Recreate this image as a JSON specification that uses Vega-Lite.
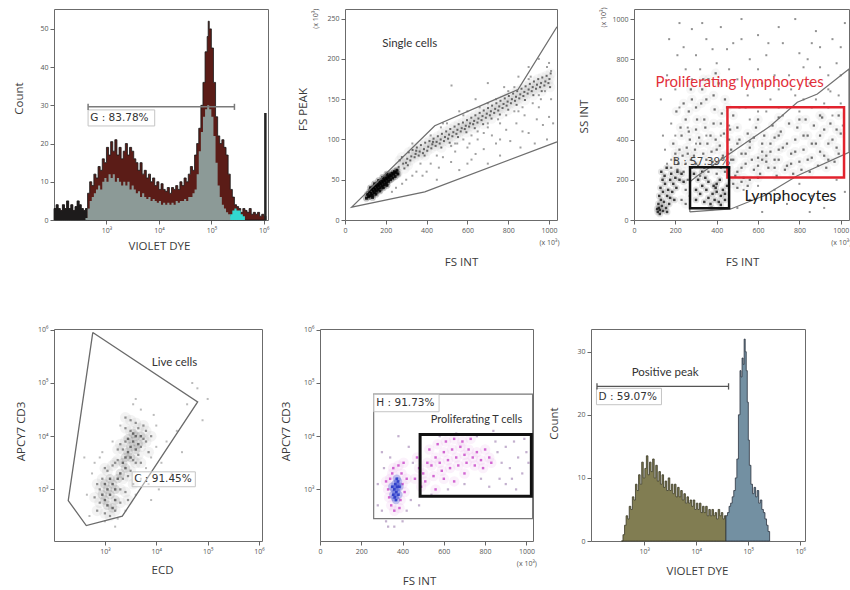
{
"$schema": "https://vega.github.io/schema/vega-lite/v6.json",
"background": "white",
"padding": {"left": 12, "top": 6, "right": 0, "bottom": 0},
"config": {
  "view": {"stroke": "#6b6b6b", "strokeWidth": 1},
  "axis": {"domain": false, "grid": false, "tickColor": "#666", "tickSize": 4, "labelFont": "Open Sans", "labelFontSize": 7, "labelColor": "#555", "labelPadding": 2, "labelOverlap": false, "labelFlush": false, "labelBound": false, "titleFont": "Open Sans", "titleFontSize": 11.5, "titleFontWeight": "normal", "titleColor": "#3a3a3a", "titleBaseline": "middle", "titleAlign": "center", "minExtent": 0, "maxExtent": 0},
  "text": {"font": "Lato"}
},
"datasets": {
  "h1": [{"x":2.00,"t":3,"k":3},{"x":2.04,"t":4,"k":4},{"x":2.08,"t":3,"k":3},{"x":2.12,"t":2.5,"k":2.5},{"x":2.16,"t":4,"k":4},{"x":2.2,"t":3,"k":3},{"x":2.24,"t":5,"k":5},{"x":2.28,"t":3,"k":3},{"x":2.32,"t":4,"k":4},{"x":2.36,"t":2.5,"k":2.5},{"x":2.4,"t":3.5,"k":3.5},{"x":2.44,"t":5,"k":5},{"x":2.48,"t":4,"k":4},{"x":2.52,"t":3,"k":3},{"x":2.56,"t":2.5,"k":2.5},{"x":2.6,"t":3,"g":0.5,"k":3},{"x":2.64,"t":7,"g":3,"k":0},{"x":2.68,"t":10,"g":5},{"x":2.72,"t":9,"g":6},{"x":2.76,"t":12,"g":7},{"x":2.8,"t":11,"g":8},{"x":2.84,"t":14,"g":9},{"x":2.88,"t":13,"g":8},{"x":2.92,"t":16,"g":10},{"x":2.96,"t":15,"g":11},{"x":3.0,"t":19,"g":10},{"x":3.04,"t":17,"g":12},{"x":3.08,"t":20.5,"g":11},{"x":3.12,"t":18,"g":12},{"x":3.16,"t":21,"g":10},{"x":3.2,"t":17,"g":11},{"x":3.24,"t":19,"g":10},{"x":3.28,"t":16,"g":9},{"x":3.32,"t":18,"g":10},{"x":3.36,"t":20,"g":9},{"x":3.4,"t":17,"g":10},{"x":3.44,"t":19,"g":8},{"x":3.48,"t":18,"g":9},{"x":3.52,"t":16,"g":8},{"x":3.56,"t":15,"g":7},{"x":3.6,"t":13,"g":7.5},{"x":3.64,"t":15,"g":6},{"x":3.68,"t":12,"g":7},{"x":3.72,"t":13,"g":6},{"x":3.76,"t":11,"g":5.5},{"x":3.8,"t":12,"g":6},{"x":3.84,"t":10,"g":5},{"x":3.88,"t":11,"g":5.5},{"x":3.92,"t":9,"g":5},{"x":3.96,"t":10,"g":4.5},{"x":4.0,"t":8,"g":5},{"x":4.04,"t":9.5,"g":4},{"x":4.08,"t":8,"g":4.5},{"x":4.12,"t":7.5,"g":4},{"x":4.16,"t":8.5,"g":4.5},{"x":4.2,"t":7,"g":4},{"x":4.24,"t":8.5,"g":4.5},{"x":4.28,"t":8,"g":4},{"x":4.32,"t":9,"g":5},{"x":4.36,"t":8,"g":4.5},{"x":4.4,"t":10,"g":5},{"x":4.44,"t":9,"g":5},{"x":4.48,"t":11,"g":5.5},{"x":4.52,"t":10,"g":5},{"x":4.56,"t":12,"g":6},{"x":4.6,"t":14,"g":6},{"x":4.64,"t":13,"g":7},{"x":4.68,"t":17,"g":8},{"x":4.72,"t":20,"g":12},{"x":4.76,"t":24,"g":18},{"x":4.8,"t":30,"g":23},{"x":4.84,"t":36,"g":27},{"x":4.88,"t":44,"g":29},{"x":4.92,"t":48,"g":30},{"x":4.94,"t":52,"g":30},{"x":4.96,"t":50,"g":29},{"x":5.0,"t":45,"g":27},{"x":5.04,"t":36,"g":22},{"x":5.08,"t":27,"g":15},{"x":5.12,"t":22,"g":9},{"x":5.16,"t":20,"g":6},{"x":5.2,"t":21,"g":4},{"x":5.24,"t":19,"g":3},{"x":5.28,"t":17,"g":2},{"x":5.32,"t":12,"g":1.5},{"x":5.36,"t":8,"g":1,"cy":1.5},{"x":5.4,"t":6,"g":0,"cy":2.5},{"x":5.44,"t":4,"cy":3},{"x":5.48,"t":3.5,"cy":2.5},{"x":5.52,"t":3,"cy":2.5},{"x":5.56,"t":2,"cy":1.5},{"x":5.6,"t":3,"cy":1},{"x":5.64,"t":2.5,"cy":0},{"x":5.68,"t":2},{"x":5.72,"t":3},{"x":5.76,"t":1.5},{"x":5.8,"t":2},{"x":5.84,"t":1.5},{"x":5.88,"t":2},{"x":5.92,"t":1},{"x":5.96,"t":1.5},{"x":6.0,"t":1},{"x":6.04,"t":0}],
  "h1bar": [{"x":6.03,"c":28}],
  "gb1": [{"x":2.65,"x2":5.44,"y":29.6}],
  "gc1": [{"x":2.65,"y":28.8,"y2":30.4},{"x":5.44,"y":28.8,"y2":30.4}],
  "b1": [{"x":2.65,"x2":3.92,"y":24.6,"y2":28.8}],
  "t1": [{"x":2.69,"y":26.7,"t":"G : 83.78%"}],
  "h6": [{"x":2.56,"o":0},{"x":2.59,"o":1},{"x":2.62,"o":2.5},{"x":2.65,"o":4},{"x":2.68,"o":3.5},{"x":2.71,"o":5.5},{"x":2.74,"o":5},{"x":2.77,"o":7},{"x":2.8,"o":6.5},{"x":2.83,"o":9},{"x":2.86,"o":8},{"x":2.89,"o":10.5},{"x":2.92,"o":9},{"x":2.95,"o":12.5},{"x":2.98,"o":10},{"x":3.01,"o":11.5},{"x":3.04,"o":13.5},{"x":3.07,"o":10.5},{"x":3.1,"o":12.5},{"x":3.13,"o":11},{"x":3.16,"o":13},{"x":3.19,"o":10},{"x":3.22,"o":12},{"x":3.25,"o":9.5},{"x":3.28,"o":11},{"x":3.31,"o":9},{"x":3.34,"o":10.5},{"x":3.37,"o":8.5},{"x":3.4,"o":9.5},{"x":3.43,"o":8},{"x":3.46,"o":10},{"x":3.49,"o":8},{"x":3.52,"o":9},{"x":3.55,"o":7.5},{"x":3.58,"o":9},{"x":3.61,"o":7},{"x":3.64,"o":8.5},{"x":3.67,"o":7},{"x":3.7,"o":8},{"x":3.73,"o":6.5},{"x":3.76,"o":7.5},{"x":3.79,"o":6},{"x":3.82,"o":7},{"x":3.85,"o":6},{"x":3.88,"o":6.5},{"x":3.91,"o":5.5},{"x":3.94,"o":6.5},{"x":3.97,"o":5},{"x":4.0,"o":6},{"x":4.03,"o":5},{"x":4.06,"o":6},{"x":4.09,"o":4.5},{"x":4.12,"o":5.5},{"x":4.15,"o":4.5},{"x":4.18,"o":5.5},{"x":4.21,"o":4},{"x":4.24,"o":5},{"x":4.27,"o":4},{"x":4.3,"o":5},{"x":4.33,"o":4},{"x":4.36,"o":4.5},{"x":4.39,"o":3.5},{"x":4.42,"o":5},{"x":4.45,"o":4},{"x":4.48,"o":4.5},{"x":4.51,"o":3.5},{"x":4.54,"o":4},{"x":4.57,"o":4,"b":4},{"x":4.6,"b":4.5},{"x":4.63,"b":5.5},{"x":4.66,"b":6},{"x":4.69,"b":7},{"x":4.72,"b":8},{"x":4.75,"b":10},{"x":4.78,"b":13},{"x":4.81,"b":20},{"x":4.84,"b":27},{"x":4.86,"b":26},{"x":4.88,"b":29},{"x":4.9,"b":28},{"x":4.92,"b":32},{"x":4.94,"b":30},{"x":4.96,"b":27},{"x":4.98,"b":22},{"x":5.0,"b":16},{"x":5.02,"b":12},{"x":5.05,"b":9},{"x":5.08,"b":7.5},{"x":5.11,"b":8.5},{"x":5.14,"b":7},{"x":5.17,"b":8},{"x":5.2,"b":6},{"x":5.23,"b":6.5},{"x":5.26,"b":5},{"x":5.29,"b":4.5},{"x":5.32,"b":3.5},{"x":5.35,"b":2.5},{"x":5.38,"b":1.5},{"x":5.41,"b":0}],
  "gb6": [{"x":2.09,"x2":4.62,"y":24.5}],
  "gc6": [{"x":2.09,"y":24.0,"y2":25.0},{"x":4.62,"y":24.0,"y2":25.0}],
  "b6": [{"x":2.08,"x2":3.33,"y":21.6,"y2":24.2}],
  "t6": [{"x":2.12,"y":22.9,"t":"D : 59.07%"}],
  "t6b": [{"x":3.4,"y":26.6,"t":"Positive peak"}],
  "p2d": [{"x":105,"y":27},{"x":110,"y":32},{"x":115,"y":29},{"x":120,"y":35},{"x":122,"y":30},{"x":128,"y":33},{"x":130,"y":38},{"x":134,"y":31},{"x":138,"y":36},{"x":140,"y":40},{"x":144,"y":34},{"x":148,"y":38},{"x":150,"y":42},{"x":154,"y":36},{"x":158,"y":41},{"x":160,"y":44},{"x":163,"y":38},{"x":167,"y":43},{"x":170,"y":46},{"x":173,"y":40},{"x":177,"y":45},{"x":180,"y":48},{"x":183,"y":42},{"x":187,"y":47},{"x":190,"y":50},{"x":193,"y":44},{"x":197,"y":49},{"x":200,"y":52},{"x":203,"y":46},{"x":207,"y":51},{"x":210,"y":54},{"x":213,"y":48},{"x":217,"y":53},{"x":220,"y":56},{"x":223,"y":50},{"x":227,"y":55},{"x":230,"y":58},{"x":234,"y":52},{"x":238,"y":57},{"x":242,"y":60},{"x":246,"y":54},{"x":250,"y":59},{"x":255,"y":62},{"x":260,"y":57},{"x":135,"y":28},{"x":152,"y":32},{"x":171,"y":36},{"x":188,"y":40},{"x":206,"y":43},{"x":125,"y":40},{"x":145,"y":45},{"x":165,"y":49},{"x":185,"y":53},{"x":205,"y":57}],
  "p2m": [{"x":263,"y":66},{"x":258,"y":58},{"x":268,"y":74},{"x":285,"y":70},{"x":279,"y":78},{"x":291,"y":64},{"x":305,"y":76},{"x":312,"y":84},{"x":299,"y":71},{"x":308,"y":68},{"x":325,"y":79},{"x":331,"y":87},{"x":320,"y":74},{"x":346,"y":82},{"x":352,"y":90},{"x":341,"y":78},{"x":349,"y":86},{"x":366,"y":85},{"x":372,"y":93},{"x":361,"y":80},{"x":387,"y":88},{"x":393,"y":96},{"x":382,"y":83},{"x":390,"y":80},{"x":408,"y":91},{"x":414,"y":98},{"x":403,"y":86},{"x":428,"y":94},{"x":434,"y":101},{"x":423,"y":89},{"x":431,"y":97},{"x":449,"y":97},{"x":455,"y":104},{"x":444,"y":92},{"x":469,"y":100},{"x":475,"y":107},{"x":464,"y":95},{"x":472,"y":90},{"x":490,"y":103},{"x":496,"y":110},{"x":485,"y":98},{"x":510,"y":106},{"x":516,"y":113},{"x":505,"y":101},{"x":513,"y":96},{"x":531,"y":109},{"x":537,"y":116},{"x":526,"y":104},{"x":551,"y":112},{"x":557,"y":119},{"x":546,"y":107},{"x":554,"y":103},{"x":572,"y":114},{"x":578,"y":121},{"x":567,"y":110},{"x":592,"y":117},{"x":598,"y":124},{"x":587,"y":113},{"x":595,"y":109},{"x":613,"y":120},{"x":619,"y":127},{"x":608,"y":116},{"x":633,"y":123},{"x":639,"y":130},{"x":628,"y":119},{"x":636,"y":114},{"x":654,"y":126},{"x":660,"y":133},{"x":649,"y":121},{"x":674,"y":129},{"x":680,"y":136},{"x":669,"y":124},{"x":677,"y":119},{"x":695,"y":132},{"x":701,"y":139},{"x":690,"y":127},{"x":715,"y":135},{"x":721,"y":142},{"x":710,"y":130},{"x":718,"y":126},{"x":736,"y":138},{"x":742,"y":145},{"x":731,"y":133},{"x":756,"y":141},{"x":762,"y":148},{"x":751,"y":136},{"x":759,"y":131},{"x":777,"y":144},{"x":783,"y":151},{"x":772,"y":139},{"x":797,"y":147},{"x":803,"y":154},{"x":792,"y":142},{"x":800,"y":137},{"x":818,"y":150},{"x":824,"y":157},{"x":813,"y":145},{"x":838,"y":153},{"x":844,"y":160},{"x":833,"y":148},{"x":841,"y":143},{"x":859,"y":156},{"x":865,"y":163},{"x":854,"y":151},{"x":879,"y":159},{"x":885,"y":166},{"x":874,"y":154},{"x":882,"y":149},{"x":900,"y":162},{"x":906,"y":169},{"x":895,"y":157},{"x":920,"y":165},{"x":926,"y":172},{"x":915,"y":160},{"x":923,"y":155},{"x":941,"y":168},{"x":947,"y":175},{"x":936,"y":163},{"x":961,"y":170},{"x":967,"y":177},{"x":956,"y":165},{"x":964,"y":160},{"x":982,"y":172},{"x":988,"y":179},{"x":977,"y":167},{"x":1002,"y":175},{"x":1008,"y":182},{"x":997,"y":170},{"x":1005,"y":165}],
  "p2s": [{"x":350,"y":60},{"x":380,"y":55},{"x":420,"y":70},{"x":460,"y":65},{"x":480,"y":78},{"x":520,"y":72},{"x":540,"y":85},{"x":560,"y":62},{"x":600,"y":90},{"x":620,"y":75},{"x":650,"y":100},{"x":680,"y":88},{"x":700,"y":70},{"x":720,"y":105},{"x":740,"y":95},{"x":760,"y":80},{"x":790,"y":112},{"x":810,"y":98},{"x":840,"y":120},{"x":860,"y":90},{"x":880,"y":130},{"x":900,"y":108},{"x":930,"y":95},{"x":950,"y":140},{"x":970,"y":118},{"x":990,"y":100},{"x":1010,"y":150},{"x":1000,"y":128},{"x":450,"y":50},{"x":580,"y":100},{"x":700,"y":115},{"x":830,"y":135},{"x":920,"y":145},{"x":640,"y":82},{"x":760,"y":120},{"x":400,"y":60},{"x":330,"y":55},{"x":870,"y":110},{"x":980,"y":160},{"x":600,"y":70},{"x":522,"y":167},{"x":700,"y":170},{"x":640,"y":150},{"x":900,"y":190},{"x":950,"y":200},{"x":1000,"y":195},{"x":480,"y":120},{"x":560,"y":135},{"x":780,"y":165},{"x":850,"y":178},{"x":250,"y":40},{"x":280,"y":45},{"x":300,"y":50},{"x":230,"y":35},{"x":1020,"y":120},{"x":940,"y":125},{"x":760,"y":100},{"x":680,"y":108},{"x":610,"y":95},{"x":540,"y":95},{"x":330,"y":95},{"x":370,"y":70},{"x":420,"y":105},{"x":470,"y":115},{"x":520,"y":92},{"x":580,"y":130},{"x":620,"y":105},{"x":660,"y":140},{"x":700,"y":120},{"x":740,"y":150},{"x":790,"y":130},{"x":830,"y":165},{"x":870,"y":140},{"x":910,"y":178},{"x":960,"y":150},{"x":1010,"y":185},{"x":450,"y":80},{"x":500,"y":120},{"x":550,"y":95},{"x":600,"y":135},{"x":650,"y":110},{"x":700,"y":145},{"x":750,"y":125},{"x":800,"y":160},{"x":850,"y":135},{"x":900,"y":175},{"x":950,"y":155},{"x":990,"y":190}],
  "g2": [{"x":1039,"y":240,"i":1},{"x":848,"y":162,"i":2},{"x":440,"y":117,"i":3},{"x":33,"y":16,"i":4},{"x":391,"y":35,"i":5},{"x":1039,"y":97,"i":6}],
  "t2": [{"x":317,"y":218,"t":"Single cells"}],
  "u2": [{"x":-143,"y":250,"t":"(x 10³)"}],
  "p3d": [{"x":115,"y":40},{"x":120,"y":60},{"x":118,"y":80},{"x":125,"y":50},{"x":130,"y":100},{"x":122,"y":120},{"x":135,"y":70},{"x":140,"y":140},{"x":128,"y":160},{"x":145,"y":90},{"x":150,"y":180},{"x":138,"y":200},{"x":155,"y":60},{"x":160,"y":120},{"x":148,"y":220},{"x":165,"y":150},{"x":170,"y":80},{"x":175,"y":200},{"x":132,"y":240},{"x":158,"y":260},{"x":180,"y":230},{"x":190,"y":180},{"x":200,"y":210},{"x":185,"y":140},{"x":210,"y":240},{"x":195,"y":100},{"x":220,"y":200},{"x":230,"y":230},{"x":205,"y":160},{"x":240,"y":190},{"x":175,"y":110},{"x":125,"y":30},{"x":140,"y":45},{"x":160,"y":40},{"x":112,"y":55},{"x":300,"y":100},{"x":320,"y":130},{"x":340,"y":90},{"x":350,"y":150},{"x":360,"y":110},{"x":370,"y":80},{"x":380,"y":130},{"x":390,"y":100},{"x":400,"y":140},{"x":410,"y":90},{"x":420,"y":120},{"x":430,"y":150},{"x":440,"y":100},{"x":385,"y":170},{"x":360,"y":190},{"x":330,"y":170},{"x":310,"y":200},{"x":345,"y":210},{"x":400,"y":180},{"x":420,"y":75},{"x":440,"y":130},{"x":450,"y":170},{"x":300,"y":150},{"x":290,"y":230},{"x":330,"y":240},{"x":375,"y":60},{"x":395,"y":160},{"x":415,"y":200}],
  "p3m": [{"x":460,"y":260},{"x":480,"y":300},{"x":500,"y":240},{"x":520,"y":330},{"x":540,"y":280},{"x":560,"y":360},{"x":580,"y":250},{"x":600,"y":310},{"x":620,"y":380},{"x":640,"y":290},{"x":660,"y":340},{"x":680,"y":410},{"x":700,"y":300},{"x":720,"y":360},{"x":740,"y":270},{"x":760,"y":330},{"x":780,"y":400},{"x":800,"y":290},{"x":820,"y":350},{"x":840,"y":420},{"x":860,"y":310},{"x":880,"y":380},{"x":900,"y":340},{"x":920,"y":450},{"x":940,"y":300},{"x":960,"y":400},{"x":980,"y":360},{"x":1000,"y":430},{"x":470,"y":350},{"x":510,"y":400},{"x":550,"y":430},{"x":590,"y":460},{"x":630,"y":420},{"x":670,"y":470},{"x":710,"y":440},{"x":750,"y":480},{"x":790,"y":460},{"x":830,"y":500},{"x":870,"y":470},{"x":910,"y":510},{"x":950,"y":480},{"x":990,"y":520},{"x":490,"y":220},{"x":530,"y":210},{"x":570,"y":300},{"x":610,"y":230},{"x":650,"y":260},{"x":690,"y":220},{"x":730,"y":250},{"x":770,"y":230},{"x":810,"y":250},{"x":850,"y":240},{"x":890,"y":270},{"x":930,"y":260},{"x":970,"y":290},{"x":560,"y":390},{"x":640,"y":320},{"x":700,"y":350},{"x":620,"y":340},{"x":680,"y":300},{"x":200,"y":300},{"x":220,"y":350},{"x":250,"y":280},{"x":270,"y":400},{"x":290,"y":320},{"x":300,"y":450},{"x":320,"y":380},{"x":340,"y":500},{"x":350,"y":300},{"x":370,"y":420},{"x":390,"y":550},{"x":400,"y":350},{"x":420,"y":480},{"x":440,"y":600},{"x":460,"y":400},{"x":480,"y":520},{"x":250,"y":500},{"x":230,"y":420},{"x":280,"y":600},{"x":330,"y":650},{"x":360,"y":700},{"x":410,"y":680},{"x":210,"y":250},{"x":260,"y":330},{"x":310,"y":270},{"x":380,"y":290},{"x":430,"y":320},{"x":470,"y":300},{"x":190,"y":380},{"x":240,"y":580},{"x":300,"y":560},{"x":350,"y":600},{"x":450,"y":560},{"x":240,"y":240},{"x":260,"y":200},{"x":280,"y":260},{"x":300,"y":280},{"x":320,"y":220},{"x":340,"y":260},{"x":360,"y":240},{"x":380,"y":270},{"x":400,"y":230},{"x":420,"y":260},{"x":440,"y":240},{"x":250,"y":150},{"x":270,"y":120},{"x":230,"y":100},{"x":250,"y":80},{"x":460,"y":200},{"x":480,"y":180},{"x":520,"y":190},{"x":560,"y":200},{"x":600,"y":210},{"x":500,"y":160},{"x":550,"y":170},{"x":180,"y":260},{"x":200,"y":330},{"x":215,"y":280},{"x":235,"y":320},{"x":255,"y":360},{"x":275,"y":300},{"x":295,"y":350},{"x":315,"y":410},{"x":335,"y":330},{"x":355,"y":380},{"x":375,"y":340},{"x":395,"y":400},{"x":415,"y":370},{"x":435,"y":430},{"x":455,"y":330},{"x":225,"y":460},{"x":265,"y":440},{"x":305,"y":500},{"x":345,"y":460},{"x":385,"y":480},{"x":425,"y":530},{"x":465,"y":450},{"x":205,"y":540},{"x":265,"y":540},{"x":325,"y":580},{"x":385,"y":620},{"x":275,"y":650},{"x":335,"y":700},{"x":395,"y":730},{"x":500,"y":380},{"x":540,"y":330},{"x":580,"y":410},{"x":620,"y":300},{"x":660,"y":380},{"x":700,"y":420},{"x":740,"y":380},{"x":780,"y":340},{"x":820,"y":420},{"x":860,"y":380},{"x":900,"y":420},{"x":940,"y":380},{"x":980,"y":450},{"x":520,"y":260},{"x":600,"y":270},{"x":680,"y":260},{"x":760,"y":280},{"x":840,"y":300},{"x":920,"y":320},{"x":990,"y":330},{"x":500,"y":460},{"x":600,"y":500},{"x":700,"y":510},{"x":800,"y":500},{"x":900,"y":520}],
  "p3s": [{"x":150,"y":350},{"x":180,"y":480},{"x":200,"y":650},{"x":250,"y":750},{"x":300,"y":820},{"x":350,"y":900},{"x":400,"y":780},{"x":450,"y":850},{"x":500,"y":700},{"x":550,"y":620},{"x":600,"y":750},{"x":650,"y":880},{"x":700,"y":650},{"x":750,"y":720},{"x":800,"y":830},{"x":850,"y":680},{"x":900,"y":760},{"x":950,"y":640},{"x":1000,"y":720},{"x":170,"y":900},{"x":220,"y":980},{"x":280,"y":950},{"x":420,"y":960},{"x":520,"y":1000},{"x":600,"y":920},{"x":700,"y":960},{"x":780,"y":1000},{"x":880,"y":940},{"x":960,"y":900},{"x":1020,"y":980},{"x":130,"y":600},{"x":160,"y":720},{"x":320,"y":750},{"x":480,"y":880},{"x":560,"y":800},{"x":660,"y":600},{"x":740,"y":560},{"x":820,"y":600},{"x":920,"y":580},{"x":990,"y":620},{"x":140,"y":420},{"x":210,"y":820},{"x":380,"y":850},{"x":620,"y":680},{"x":860,"y":880},{"x":540,"y":560},{"x":600,"y":540},{"x":700,"y":560},{"x":780,"y":620},{"x":880,"y":600},{"x":940,"y":650},{"x":500,"y":60},{"x":560,"y":100},{"x":620,"y":40},{"x":680,"y":150},{"x":740,"y":80},{"x":800,"y":180},{"x":860,"y":120},{"x":920,"y":60},{"x":980,"y":200},{"x":1020,"y":140},{"x":600,"y":170},{"x":700,"y":110},{"x":850,"y":40},{"x":950,"y":100},{"x":530,"y":150},{"x":300,"y":380},{"x":350,"y":420},{"x":260,"y":460},{"x":220,"y":560},{"x":280,"y":700},{"x":420,"y":420},{"x":460,"y":470},{"x":510,"y":560},{"x":560,"y":500},{"x":640,"y":540},{"x":720,"y":520},{"x":800,"y":540},{"x":860,"y":560},{"x":940,"y":560},{"x":1000,"y":580},{"x":1010,"y":470},{"x":960,"y":520},{"x":180,"y":300},{"x":160,"y":280},{"x":200,"y":420},{"x":240,"y":860},{"x":330,"y":980},{"x":460,"y":750},{"x":520,"y":900},{"x":640,"y":820},{"x":720,"y":880},{"x":820,"y":760},{"x":900,"y":860},{"x":980,"y":780},{"x":1000,"y":860},{"x":580,"y":660},{"x":680,"y":720},{"x":760,"y":650},{"x":840,"y":800},{"x":940,"y":720}],
  "g3": [{"x":270,"y":40,"i":1},{"x":468,"y":55,"i":2},{"x":629,"y":121,"i":3},{"x":790,"y":220,"i":4},{"x":1040,"y":337,"i":5},{"x":1040,"y":751,"i":6},{"x":887,"y":627,"i":7},{"x":790,"y":586,"i":8},{"x":661,"y":469,"i":9},{"x":307,"y":220,"i":10},{"x":270,"y":190,"i":11},{"x":270,"y":40,"i":12}],
  "r3red": [{"x":452,"x2":1016,"y":212,"y2":561}],
  "r3blk": [{"x":271,"x2":460,"y":58,"y2":262}],
  "t3b": [{"x":187,"y":289,"t":"B : 57.39%"}],
  "t3r": [{"x":511,"y":687,"t":"Proliferating lymphocytes"}],
  "t3l": [{"x":757,"y":119,"t":"Lymphocytes"}],
  "u3": [{"x":-145,"y":1008,"t":"(x 10³)"}],
  "p4d": [{"x":3.0,"y":2.8},{"x":3.05,"y":3.0},{"x":3.1,"y":2.9},{"x":3.15,"y":3.1},{"x":3.2,"y":3.0},{"x":3.1,"y":3.2},{"x":3.0,"y":3.1},{"x":3.25,"y":3.2},{"x":3.2,"y":2.8},{"x":3.3,"y":3.3},{"x":3.35,"y":3.5},{"x":3.4,"y":3.6},{"x":3.45,"y":3.7},{"x":3.5,"y":3.8},{"x":3.55,"y":3.9},{"x":3.6,"y":4.0},{"x":3.5,"y":3.6},{"x":3.6,"y":3.75},{"x":3.65,"y":3.85},{"x":3.55,"y":4.05},{"x":3.45,"y":3.95},{"x":3.7,"y":4.0},{"x":3.4,"y":3.4},{"x":3.05,"y":2.7},{"x":2.95,"y":2.9},{"x":3.15,"y":2.65}],
  "p4m": [{"x":2.85,"y":2.6},{"x":2.9,"y":2.75},{"x":2.9,"y":3.0},{"x":2.95,"y":3.2},{"x":3.0,"y":2.55},{"x":3.05,"y":3.35},{"x":3.1,"y":2.5},{"x":3.15,"y":3.45},{"x":3.2,"y":2.6},{"x":3.25,"y":3.55},{"x":3.3,"y":2.75},{"x":3.3,"y":3.0},{"x":3.35,"y":3.2},{"x":3.35,"y":3.75},{"x":3.4,"y":2.95},{"x":3.4,"y":3.9},{"x":3.45,"y":3.25},{"x":3.5,"y":4.1},{"x":3.5,"y":3.35},{"x":3.55,"y":3.55},{"x":3.6,"y":4.25},{"x":3.6,"y":3.5},{"x":3.65,"y":3.65},{"x":3.65,"y":4.15},{"x":3.7,"y":3.8},{"x":3.75,"y":3.95},{"x":3.75,"y":4.2},{"x":3.8,"y":3.9},{"x":3.8,"y":4.1},{"x":3.4,"y":4.15},{"x":3.3,"y":3.85},{"x":3.2,"y":3.5},{"x":3.25,"y":3.75},{"x":3.0,"y":3.4},{"x":2.8,"y":2.85},{"x":2.85,"y":3.1},{"x":3.45,"y":2.8},{"x":3.55,"y":3.1},{"x":3.7,"y":3.5},{"x":3.85,"y":3.7},{"x":3.9,"y":4.0},{"x":3.5,"y":4.3},{"x":3.4,"y":4.35}],
  "p4s": [{"x":2.7,"y":2.5},{"x":2.75,"y":3.3},{"x":2.8,"y":3.5},{"x":2.9,"y":3.6},{"x":3.0,"y":2.4},{"x":3.25,"y":2.45},{"x":3.4,"y":2.6},{"x":3.6,"y":2.9},{"x":3.7,"y":3.2},{"x":3.8,"y":3.4},{"x":3.9,"y":3.6},{"x":4.0,"y":3.8},{"x":4.0,"y":4.2},{"x":3.95,"y":4.4},{"x":3.7,"y":4.5},{"x":3.55,"y":4.6},{"x":3.3,"y":4.2},{"x":3.15,"y":3.9},{"x":2.95,"y":3.7},{"x":4.1,"y":3.5},{"x":4.2,"y":3.9},{"x":4.3,"y":3.3},{"x":4.4,"y":4.1},{"x":4.6,"y":4.6},{"x":4.8,"y":4.9},{"x":5.0,"y":4.7},{"x":4.7,"y":5.0},{"x":4.5,"y":3.7},{"x":4.9,"y":4.3},{"x":3.2,"y":2.3},{"x":2.65,"y":2.9},{"x":3.85,"y":3.1},{"x":4.05,"y":3.0},{"x":3.9,"y":2.8},{"x":2.6,"y":3.6},{"x":3.6,"y":4.7}],
  "g4": [{"x":2.765,"y":5.95,"i":1},{"x":4.805,"y":4.644,"i":2},{"x":3.339,"y":2.497,"i":3},{"x":2.638,"y":2.32,"i":4},{"x":2.287,"y":2.79,"i":5},{"x":2.765,"y":5.95,"i":6}],
  "b4": [{"x":3.53,"x2":4.76,"y":3.05,"y2":3.33}],
  "t4": [{"x":3.57,"y":3.19,"t":"C : 91.45%"}],
  "t4b": [{"x":4.355,"y":5.385,"t":"Live cells"}],
  "p5d": [{"x":360,"y":3.0},{"x":370,"y":2.95},{"x":375,"y":3.05},{"x":365,"y":3.1},{"x":380,"y":2.9},{"x":355,"y":2.9},{"x":372,"y":3.2},{"x":385,"y":3.05},{"x":350,"y":3.05},{"x":368,"y":2.8},{"x":378,"y":3.15},{"x":362,"y":2.85}],
  "p5m": [{"x":330,"y":3.0},{"x":340,"y":3.2},{"x":345,"y":2.7},{"x":390,"y":2.8},{"x":400,"y":3.1},{"x":395,"y":3.3},{"x":410,"y":2.95},{"x":335,"y":2.85},{"x":320,"y":3.15},{"x":355,"y":3.4},{"x":380,"y":3.45},{"x":360,"y":2.6},{"x":385,"y":2.65},{"x":420,"y":3.2},{"x":350,"y":3.3},{"x":405,"y":3.5},{"x":460,"y":3.2},{"x":480,"y":3.4},{"x":500,"y":3.3},{"x":520,"y":3.5},{"x":540,"y":3.45},{"x":560,"y":3.6},{"x":580,"y":3.5},{"x":600,"y":3.7},{"x":620,"y":3.55},{"x":640,"y":3.75},{"x":660,"y":3.6},{"x":680,"y":3.8},{"x":700,"y":3.65},{"x":720,"y":3.75},{"x":740,"y":3.6},{"x":760,"y":3.7},{"x":780,"y":3.55},{"x":800,"y":3.75},{"x":820,"y":3.6},{"x":470,"y":3.6},{"x":510,"y":3.15},{"x":550,"y":3.25},{"x":590,"y":3.35},{"x":630,"y":3.4},{"x":670,"y":3.45},{"x":710,"y":3.5},{"x":750,"y":3.45},{"x":790,"y":3.4},{"x":830,"y":3.5},{"x":530,"y":3.75},{"x":570,"y":3.85},{"x":610,"y":3.9},{"x":650,"y":3.95},{"x":690,"y":3.9},{"x":730,"y":3.95},{"x":490,"y":3.05},{"x":600,"y":3.2},{"x":700,"y":3.3},{"x":560,"y":3.0},{"x":650,"y":3.15}],
  "p5s": [{"x":300,"y":2.6},{"x":310,"y":3.4},{"x":320,"y":2.4},{"x":340,"y":3.6},{"x":420,"y":2.6},{"x":440,"y":2.8},{"x":450,"y":3.5},{"x":300,"y":3.7},{"x":280,"y":3.1},{"x":430,"y":3.8},{"x":860,"y":3.7},{"x":880,"y":3.5},{"x":900,"y":3.8},{"x":920,"y":3.4},{"x":940,"y":3.9},{"x":960,"y":3.6},{"x":980,"y":3.3},{"x":1000,"y":3.7},{"x":850,"y":3.9},{"x":870,"y":3.2},{"x":900,"y":3.1},{"x":950,"y":3.0},{"x":1010,"y":3.5},{"x":540,"y":2.9},{"x":620,"y":3.0},{"x":700,"y":3.1},{"x":780,"y":3.2},{"x":820,"y":3.05},{"x":480,"y":2.7},{"x":580,"y":4.0},{"x":660,"y":4.05},{"x":760,"y":4.0},{"x":840,"y":4.1},{"x":400,"y":2.4},{"x":360,"y":2.3},{"x":380,"y":4.0},{"x":330,"y":2.3},{"x":280,"y":2.7},{"x":990,"y":3.95},{"x":930,"y":3.2}],
  "r5g": [{"x":260,"x2":1030,"y":2.45,"y2":4.79}],
  "r5b": [{"x":485,"x2":1024,"y":2.87,"y2":4.03}],
  "b5": [{"x":260,"x2":577,"y":4.46,"y2":4.785}],
  "t5": [{"x":273,"y":4.62,"t":"H : 91.73%"}],
  "t5b": [{"x":758,"y":4.31,"t":"Proliferating T cells"}]
},
"vconcat": [
 {"hconcat": [
   {"width": 214, "height": 211, "layer": [
    {"data": {"name": "h1"}, "mark": {"type": "area", "interpolate": "step-after", "fill": "#5b1c17", "stroke": "#161616", "strokeWidth": 0.8},
     "encoding": {
      "x": {"field": "x", "type": "quantitative", "scale": {"domain": [2, 6.08], "nice": false, "zero": false},
            "axis": {"title": "VIOLET DYE", "titleX": 105, "titleY": 26, "titleAngle": 0, "values": [3,4,5,6], "labelExpr": "datum.value == 3 ? '10³' : datum.value == 4 ? '10⁴' : datum.value == 5 ? '10⁵' : '10⁶'"}},
      "y": {"field": "t", "type": "quantitative", "scale": {"domain": [0, 55.2], "nice": false},
            "axis": {"title": "Count", "titleX": -35, "titleY": 89, "titleAngle": 270, "format": "d", "values": [0,10,20,30,40,50]}}}},
    {"data": {"name": "h1"}, "mark": {"type": "area", "interpolate": "step-after", "fill": "#1d1b1b"},
     "encoding": {"x": {"field": "x", "type": "quantitative"}, "y": {"field": "k", "type": "quantitative"}}},
    {"data": {"name": "h1"}, "mark": {"type": "area", "interpolate": "step-after", "fill": "#8c9a97"},
     "encoding": {"x": {"field": "x", "type": "quantitative"}, "y": {"field": "g", "type": "quantitative"}}},
    {"data": {"name": "h1"}, "mark": {"type": "area", "interpolate": "step-after", "fill": "#32d8d0"},
     "encoding": {"x": {"field": "x", "type": "quantitative"}, "y": {"field": "cy", "type": "quantitative"}}},
    {"data": {"name": "h1bar"}, "mark": {"type": "rule", "color": "#222", "strokeWidth": 2.5},
     "encoding": {"x": {"field": "x", "type": "quantitative"}, "y": {"field": "c", "type": "quantitative"}, "y2": {"datum": 0}}},
    {"data": {"name": "b1"}, "mark": {"type": "rect", "fill": "white", "fillOpacity": 0.5, "stroke": "#c4c4c4", "strokeWidth": 1},
     "encoding": {"x": {"field": "x", "type": "quantitative"}, "x2": {"field": "x2"}, "y": {"field": "y", "type": "quantitative"}, "y2": {"field": "y2"}}},
    {"data": {"name": "gb1"}, "mark": {"type": "rule", "color": "#7a7a7a", "strokeWidth": 1.5},
     "encoding": {"x": {"field": "x", "type": "quantitative"}, "x2": {"field": "x2"}, "y": {"field": "y", "type": "quantitative"}}},
    {"data": {"name": "gc1"}, "mark": {"type": "rule", "color": "#7a7a7a", "strokeWidth": 1.5},
     "encoding": {"x": {"field": "x", "type": "quantitative"}, "y": {"field": "y", "type": "quantitative"}, "y2": {"field": "y2"}}},
    {"data": {"name": "t1"}, "mark": {"type": "text", "align": "left", "baseline": "middle", "font": "DejaVu Sans", "fontSize": 10.5, "color": "#333"},
     "encoding": {"x": {"field": "x", "type": "quantitative"}, "y": {"field": "y", "type": "quantitative"}, "text": {"field": "t"}}}
   ]},
   {"width": 212, "height": 211, "layer": [
    {"data": {"name": "p2s"}, "mark": {"type": "square", "size": 4, "color": "#888", "opacity": 0.8},
     "encoding": {
      "x": {"field": "x", "type": "quantitative", "scale": {"domain": [0, 1039], "nice": false},
            "axis": {"title": "FS INT", "titleX": 116, "titleY": 42, "titleAngle": 0, "labelLineHeight": 12, "format": "d", "values": [0,200,400,600,800,1000],
                     "labelExpr": "datum.value == 1000 ? ['1000', '(x 10³)'] : datum.label"}},
      "y": {"field": "y", "type": "quantitative", "scale": {"domain": [0, 262], "nice": false},
            "axis": {"title": "FS PEAK", "titleX": -42, "titleY": 100, "titleAngle": 270, "format": "d", "values": [0,50,100,150,200,250]}}}},
    {"data": {"name": "p2m"}, "mark": {"type": "circle", "size": 110, "color": "#555", "opacity": 0.05},
     "encoding": {"x": {"field": "x", "type": "quantitative"}, "y": {"field": "y", "type": "quantitative"}}},
    {"data": {"name": "p2m"}, "mark": {"type": "square", "size": 4, "color": "#333", "opacity": 0.7},
     "encoding": {"x": {"field": "x", "type": "quantitative"}, "y": {"field": "y", "type": "quantitative"}}},
    {"data": {"name": "p2d"}, "mark": {"type": "circle", "size": 45, "color": "#111", "opacity": 0.25},
     "encoding": {"x": {"field": "x", "type": "quantitative"}, "y": {"field": "y", "type": "quantitative"}}},
    {"data": {"name": "p2d"}, "mark": {"type": "square", "size": 8, "color": "#000", "opacity": 0.85},
     "encoding": {"x": {"field": "x", "type": "quantitative"}, "y": {"field": "y", "type": "quantitative"}}},
    {"data": {"name": "g2"}, "mark": {"type": "line", "color": "#6e6e6e", "strokeWidth": 1.3},
     "encoding": {"x": {"field": "x", "type": "quantitative"}, "y": {"field": "y", "type": "quantitative"}, "order": {"field": "i", "type": "quantitative"}}},
    {"data": {"name": "t2"}, "mark": {"type": "text", "align": "center", "baseline": "middle", "fontSize": 11.5, "color": "#333"},
     "encoding": {"x": {"field": "x", "type": "quantitative"}, "y": {"field": "y", "type": "quantitative"}, "text": {"field": "t"}}},
    {"data": {"name": "u2"}, "mark": {"type": "text", "align": "center", "baseline": "middle", "angle": 270, "font": "Open Sans", "fontSize": 7, "color": "#555"},
     "encoding": {"x": {"field": "x", "type": "quantitative"}, "y": {"field": "y", "type": "quantitative"}, "text": {"field": "t"}}}
   ]},
   {"width": 215, "height": 211, "layer": [
    {"data": {"name": "t3b"}, "mark": {"type": "text", "align": "left", "baseline": "middle", "font": "DejaVu Sans", "fontSize": 10.5, "color": "#444"},
     "encoding": {
      "x": {"field": "x", "type": "quantitative", "scale": {"domain": [0, 1040], "nice": false},
            "axis": {"title": "FS INT", "titleX": 108, "titleY": 42, "titleAngle": 0, "labelLineHeight": 12, "format": "d", "values": [0,200,400,600,800,1000],
                     "labelExpr": "datum.value == 1000 ? ['1000', '(x 10³)'] : datum.label"}},
      "y": {"field": "y", "type": "quantitative", "scale": {"domain": [0, 1050], "nice": false},
            "axis": {"title": "SS INT", "titleX": -50, "titleY": 107, "titleAngle": 270, "format": "d", "values": [0,200,400,600,800,1000]}},
      "text": {"field": "t"}}},
    {"data": {"name": "p3s"}, "mark": {"type": "square", "size": 4, "color": "#777", "opacity": 0.8},
     "encoding": {"x": {"field": "x", "type": "quantitative"}, "y": {"field": "y", "type": "quantitative"}}},
    {"data": {"name": "p3m"}, "mark": {"type": "circle", "size": 90, "color": "#555", "opacity": 0.05},
     "encoding": {"x": {"field": "x", "type": "quantitative"}, "y": {"field": "y", "type": "quantitative"}}},
    {"data": {"name": "p3m"}, "mark": {"type": "square", "size": 5, "color": "#444", "opacity": 0.75},
     "encoding": {"x": {"field": "x", "type": "quantitative"}, "y": {"field": "y", "type": "quantitative"}}},
    {"data": {"name": "p3d"}, "mark": {"type": "circle", "size": 45, "color": "#222", "opacity": 0.12},
     "encoding": {"x": {"field": "x", "type": "quantitative"}, "y": {"field": "y", "type": "quantitative"}}},
    {"data": {"name": "p3d"}, "mark": {"type": "square", "size": 6, "color": "#111", "opacity": 0.8},
     "encoding": {"x": {"field": "x", "type": "quantitative"}, "y": {"field": "y", "type": "quantitative"}}},
    {"data": {"name": "g3"}, "mark": {"type": "line", "color": "#707070", "strokeWidth": 1.2},
     "encoding": {"x": {"field": "x", "type": "quantitative"}, "y": {"field": "y", "type": "quantitative"}, "order": {"field": "i", "type": "quantitative"}}},
    {"data": {"name": "r3red"}, "mark": {"type": "rect", "fill": null, "fillOpacity": 0, "stroke": "#e2232e", "strokeWidth": 2.5},
     "encoding": {"x": {"field": "x", "type": "quantitative"}, "x2": {"field": "x2"}, "y": {"field": "y", "type": "quantitative"}, "y2": {"field": "y2"}}},
    {"data": {"name": "r3blk"}, "mark": {"type": "rect", "fill": null, "fillOpacity": 0, "stroke": "#111", "strokeWidth": 2.5},
     "encoding": {"x": {"field": "x", "type": "quantitative"}, "x2": {"field": "x2"}, "y": {"field": "y", "type": "quantitative"}, "y2": {"field": "y2"}}},
    {"data": {"name": "t3r"}, "mark": {"type": "text", "align": "center", "baseline": "middle", "fontSize": 15, "color": "#e2303a"},
     "encoding": {"x": {"field": "x", "type": "quantitative"}, "y": {"field": "y", "type": "quantitative"}, "text": {"field": "t"}}},
    {"data": {"name": "t3l"}, "mark": {"type": "text", "align": "center", "baseline": "middle", "fontSize": 16, "color": "#1a1a1a"},
     "encoding": {"x": {"field": "x", "type": "quantitative"}, "y": {"field": "y", "type": "quantitative"}, "text": {"field": "t"}}},
    {"data": {"name": "u3"}, "mark": {"type": "text", "align": "center", "baseline": "middle", "angle": 270, "font": "Open Sans", "fontSize": 7, "color": "#555"},
     "encoding": {"x": {"field": "x", "type": "quantitative"}, "y": {"field": "y", "type": "quantitative"}, "text": {"field": "t"}}}
   ]}
  ], "spacing": 77, "bounds": "flush"},
 {"hconcat": [
   {"width": 208, "height": 212, "layer": [
    {"data": {"name": "p4s"}, "mark": {"type": "square", "size": 4, "color": "#aaa", "opacity": 0.8},
     "encoding": {
      "x": {"field": "x", "type": "quantitative", "scale": {"domain": [2.01, 6.057], "nice": false, "zero": false},
            "axis": {"title": "ECD", "titleX": 108, "titleY": 29, "titleAngle": 0, "values": [3,4,5,6], "labelExpr": "datum.value == 3 ? '10³' : datum.value == 4 ? '10⁴' : datum.value == 5 ? '10⁵' : '10⁶'"}},
      "y": {"field": "y", "type": "quantitative", "scale": {"domain": [2.03, 6.015], "nice": false, "zero": false},
            "axis": {"title": "APCY7 CD3", "titleX": -33, "titleY": 102, "titleAngle": 270, "values": [3,4,5,6], "labelExpr": "datum.value == 3 ? '10³' : datum.value == 4 ? '10⁴' : datum.value == 5 ? '10⁵' : '10⁶'"}}}},
    {"data": {"name": "p4m"}, "mark": {"type": "circle", "size": 120, "color": "#777", "opacity": 0.09},
     "encoding": {"x": {"field": "x", "type": "quantitative"}, "y": {"field": "y", "type": "quantitative"}}},
    {"data": {"name": "p4m"}, "mark": {"type": "square", "size": 5, "color": "#777", "opacity": 0.8},
     "encoding": {"x": {"field": "x", "type": "quantitative"}, "y": {"field": "y", "type": "quantitative"}}},
    {"data": {"name": "p4d"}, "mark": {"type": "circle", "size": 90, "color": "#666", "opacity": 0.18},
     "encoding": {"x": {"field": "x", "type": "quantitative"}, "y": {"field": "y", "type": "quantitative"}}},
    {"data": {"name": "p4d"}, "mark": {"type": "square", "size": 6, "color": "#555", "opacity": 0.85},
     "encoding": {"x": {"field": "x", "type": "quantitative"}, "y": {"field": "y", "type": "quantitative"}}},
    {"data": {"name": "g4"}, "mark": {"type": "line", "color": "#6a6a6a", "strokeWidth": 1.3},
     "encoding": {"x": {"field": "x", "type": "quantitative"}, "y": {"field": "y", "type": "quantitative"}, "order": {"field": "i", "type": "quantitative"}}},
    {"data": {"name": "b4"}, "mark": {"type": "rect", "fill": "white", "fillOpacity": 0.45, "stroke": "#c4c4c4", "strokeWidth": 1},
     "encoding": {"x": {"field": "x", "type": "quantitative"}, "x2": {"field": "x2"}, "y": {"field": "y", "type": "quantitative"}, "y2": {"field": "y2"}}},
    {"data": {"name": "t4"}, "mark": {"type": "text", "align": "left", "baseline": "middle", "font": "DejaVu Sans", "fontSize": 10.5, "color": "#333"},
     "encoding": {"x": {"field": "x", "type": "quantitative"}, "y": {"field": "y", "type": "quantitative"}, "text": {"field": "t"}}},
    {"data": {"name": "t4b"}, "mark": {"type": "text", "align": "center", "baseline": "middle", "fontSize": 11.5, "color": "#333"},
     "encoding": {"x": {"field": "x", "type": "quantitative"}, "y": {"field": "y", "type": "quantitative"}, "text": {"field": "t"}}}
   ]},
   {"width": 213, "height": 212, "layer": [
    {"data": {"name": "p5s"}, "mark": {"type": "square", "size": 5, "color": "#b9a2c6", "opacity": 0.85},
     "encoding": {
      "x": {"field": "x", "type": "quantitative", "scale": {"domain": [0, 1032], "nice": false},
            "axis": {"title": "FS INT", "titleX": 99, "titleY": 40, "titleAngle": 0, "labelLineHeight": 12, "format": "d", "values": [0,200,400,600,800,1000],
                     "labelExpr": "datum.value == 1000 ? ['1000', '(x 10³)'] : datum.label"}},
      "y": {"field": "y", "type": "quantitative", "scale": {"domain": [2.03, 6.015], "nice": false, "zero": false},
            "axis": {"title": "APCY7 CD3", "titleX": -34, "titleY": 102, "titleAngle": 270, "values": [3,4,5,6], "labelExpr": "datum.value == 3 ? '10³' : datum.value == 4 ? '10⁴' : datum.value == 5 ? '10⁵' : '10⁶'"}}}},
    {"data": {"name": "p5m"}, "mark": {"type": "circle", "size": 110, "color": "#d050d0", "opacity": 0.08},
     "encoding": {"x": {"field": "x", "type": "quantitative"}, "y": {"field": "y", "type": "quantitative"}}},
    {"data": {"name": "p5m"}, "mark": {"type": "square", "size": 6, "color": "#c844c8", "opacity": 0.8},
     "encoding": {"x": {"field": "x", "type": "quantitative"}, "y": {"field": "y", "type": "quantitative"}}},
    {"data": {"name": "p5d"}, "mark": {"type": "circle", "size": 70, "color": "#3848d0", "opacity": 0.3},
     "encoding": {"x": {"field": "x", "type": "quantitative"}, "y": {"field": "y", "type": "quantitative"}}},
    {"data": {"name": "p5d"}, "mark": {"type": "square", "size": 7, "color": "#2a3ac8", "opacity": 0.9},
     "encoding": {"x": {"field": "x", "type": "quantitative"}, "y": {"field": "y", "type": "quantitative"}}},
    {"data": {"name": "r5g"}, "mark": {"type": "rect", "fill": null, "fillOpacity": 0, "stroke": "#777", "strokeWidth": 1.2},
     "encoding": {"x": {"field": "x", "type": "quantitative"}, "x2": {"field": "x2"}, "y": {"field": "y", "type": "quantitative"}, "y2": {"field": "y2"}}},
    {"data": {"name": "r5b"}, "mark": {"type": "rect", "fill": null, "fillOpacity": 0, "stroke": "#111", "strokeWidth": 3},
     "encoding": {"x": {"field": "x", "type": "quantitative"}, "x2": {"field": "x2"}, "y": {"field": "y", "type": "quantitative"}, "y2": {"field": "y2"}}},
    {"data": {"name": "b5"}, "mark": {"type": "rect", "fill": "white", "fillOpacity": 0.5, "stroke": "#c4c4c4", "strokeWidth": 1},
     "encoding": {"x": {"field": "x", "type": "quantitative"}, "x2": {"field": "x2"}, "y": {"field": "y", "type": "quantitative"}, "y2": {"field": "y2"}}},
    {"data": {"name": "t5"}, "mark": {"type": "text", "align": "left", "baseline": "middle", "font": "DejaVu Sans", "fontSize": 10.5, "color": "#333"},
     "encoding": {"x": {"field": "x", "type": "quantitative"}, "y": {"field": "y", "type": "quantitative"}, "text": {"field": "t"}}},
    {"data": {"name": "t5b"}, "mark": {"type": "text", "align": "center", "baseline": "middle", "fontSize": 11, "color": "#333"},
     "encoding": {"x": {"field": "x", "type": "quantitative"}, "y": {"field": "y", "type": "quantitative"}, "text": {"field": "t"}}}
   ]},
  {"width": 214, "height": 212, "layer": [
   {"data": {"name": "h6"}, "mark": {"type": "area", "interpolate": "step-after", "fill": "#817d52", "stroke": "#3a3826", "strokeWidth": 0.8},
    "encoding": {
     "x": {"field": "x", "type": "quantitative", "scale": {"domain": [1.975, 6.09], "nice": false, "zero": false},
           "axis": {"title": "VIOLET DYE", "titleX": 106, "titleY": 30, "titleAngle": 0, "values": [3,4,5,6], "labelExpr": "datum.value == 3 ? '10³' : datum.value == 4 ? '10⁴' : datum.value == 5 ? '10⁵' : '10⁶'"}},
     "y": {"field": "o", "type": "quantitative", "scale": {"domain": [0, 33.6], "nice": false},
           "axis": {"title": "Count", "titleX": -37, "titleY": 94, "titleAngle": 270, "format": "d", "values": [0,10,20,30]}}}},
   {"data": {"name": "h6"}, "mark": {"type": "area", "interpolate": "step-after", "fill": "#7390a2", "stroke": "#2c3440", "strokeWidth": 0.8},
    "encoding": {"x": {"field": "x", "type": "quantitative"}, "y": {"field": "b", "type": "quantitative"}}},
   {"data": {"name": "b6"}, "mark": {"type": "rect", "fill": "white", "fillOpacity": 0.5, "stroke": "#c4c4c4", "strokeWidth": 1},
    "encoding": {"x": {"field": "x", "type": "quantitative"}, "x2": {"field": "x2"}, "y": {"field": "y", "type": "quantitative"}, "y2": {"field": "y2"}}},
   {"data": {"name": "gb6"}, "mark": {"type": "rule", "color": "#555", "strokeWidth": 1.3},
    "encoding": {"x": {"field": "x", "type": "quantitative"}, "x2": {"field": "x2"}, "y": {"field": "y", "type": "quantitative"}}},
   {"data": {"name": "gc6"}, "mark": {"type": "rule", "color": "#555", "strokeWidth": 1.3},
    "encoding": {"x": {"field": "x", "type": "quantitative"}, "y": {"field": "y", "type": "quantitative"}, "y2": {"field": "y2"}}},
   {"data": {"name": "t6"}, "mark": {"type": "text", "align": "left", "baseline": "middle", "font": "DejaVu Sans", "fontSize": 10.5, "color": "#333"},
    "encoding": {"x": {"field": "x", "type": "quantitative"}, "y": {"field": "y", "type": "quantitative"}, "text": {"field": "t"}}},
   {"data": {"name": "t6b"}, "mark": {"type": "text", "align": "center", "baseline": "middle", "fontSize": 11.5, "color": "#333"},
    "encoding": {"x": {"field": "x", "type": "quantitative"}, "y": {"field": "y", "type": "quantitative"}, "text": {"field": "t"}}}
  ]}
 ], "spacing": 58, "bounds": "flush"}
],
"spacing": 57
}
